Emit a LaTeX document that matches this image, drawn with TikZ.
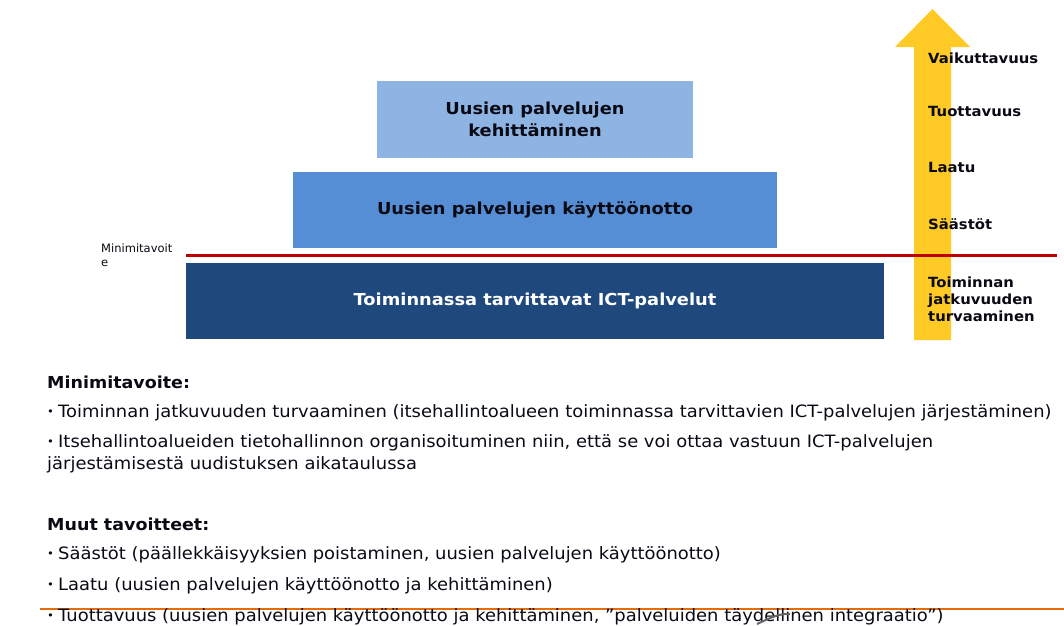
\documentclass[tikz,border=0pt]{standalone}
\usepackage{fontspec}
\setmainfont{DejaVu Sans}
\newfontfamily\tierfont[FakeStretch=1.08]{DejaVu Sans}
\newfontfamily\headfont[FakeStretch=1.06]{DejaVu Sans}
\newfontfamily\bodyfont[FakeStretch=1.055]{DejaVu Sans}
\newcommand{\smbul}{\makebox[11pt][l]{\raisebox{1.5pt}{\fontsize{11}{11}\selectfont •}}}
\definecolor{boxA}{HTML}{8EB4E3}
\definecolor{boxB}{HTML}{558ED5}
\definecolor{boxC}{HTML}{1F497D}
\definecolor{redline}{HTML}{C00000}
\definecolor{arrowyel}{HTML}{FFC926}
\definecolor{orline}{HTML}{E46C0A}
\definecolor{txt}{HTML}{0A0A14}
\tikzset{
  tier/.style={draw=none, inner sep=0pt, align=center, font=\tierfont\bfseries\fontsize{16.5}{22}\selectfont},
  lvl/.style={anchor=west, inner sep=0pt, align=left, text=txt, font=\headfont\bfseries\fontsize{14}{17}\selectfont},
  body/.style={anchor=base west, inner sep=0pt, text=txt, font=\bodyfont\fontsize{17}{20}\selectfont},
  head/.style={anchor=base west, inner sep=0pt, text=txt, font=\headfont\bfseries\fontsize{16.5}{20}\selectfont},
}
\begin{document}
\begin{tikzpicture}[x=1pt,y=-1pt]
\useasboundingbox (0,0) rectangle (1064,625);
% orange line (under the text)
\coordinate (ol1) at (40,609);
\coordinate (ol2) at (1064,609);
\draw[orline, line width=1.2pt] (ol1) -- (ol2);
% tiers
\fill[boxA] (377,81) rectangle (693,158);
\node[tier, text=txt] (t1) at (535,119.5) {Uusien palvelujen\\kehittäminen};
\fill[boxB] (293,172) rectangle (777,248);
\node[tier, text=txt] (t2) at (535,210) {Uusien palvelujen käyttöönotto};
\fill[boxC] (186,263) rectangle (884,339);
\node[tier, text=white] (t3) at (535,301) {Toiminnassa tarvittavat ICT-palvelut};
% arrow
\fill[arrowyel] (914,340) -- (914,47) -- (895,47) -- (932.5,9) -- (970,47) -- (951,47) -- (951,340) -- cycle;
% red line
\coordinate (rl1) at (186,255.5);
\coordinate (rl2) at (1057,255.5);
\draw[redline, line width=3.5pt] (rl1) -- (rl2);
\node[anchor=west, inner sep=0pt, text=txt, align=left, font=\fontsize{11.5}{14}\selectfont] (mini) at (101,255) {Minimitavoit\\e};
% levels
\node[lvl] (l1) at (928,58) {Vaikuttavuus};
\node[lvl] (l2) at (928,111) {Tuottavuus};
\node[lvl] (l3) at (928,167) {Laatu};
\node[lvl] (l4) at (928,224) {Säästöt};
\node[lvl] (l5) at (928,299) {Toiminnan\\jatkuvuuden\\turvaaminen};
% text
\node[head] (h1) at (47,388) {Minimitavoite:};
\node[body] (b1) at (47,417) {\smbul Toiminnan jatkuvuuden turvaaminen (itsehallintoalueen toiminnassa tarvittavien ICT-palvelujen järjestäminen)};
\node[body] (b2) at (47,447) {\smbul Itsehallintoalueiden tietohallinnon organisoituminen niin, että se voi ottaa vastuun ICT-palvelujen};
\node[body] (b3) at (47,469) {järjestämisestä uudistuksen aikataulussa};
\node[head] (h2) at (47,530) {Muut tavoitteet:};
\node[body] (b4) at (47,559) {\smbul Säästöt (päällekkäisyyksien poistaminen, uusien palvelujen käyttöönotto)};
\node[body] (b5) at (47,590) {\smbul Laatu (uusien palvelujen käyttöönotto ja kehittäminen)};
\node[body] (b6) at (47,621) {\smbul Tuottavuus (uusien palvelujen käyttöönotto ja kehittäminen, ”palveluiden täydellinen integraatio”)};
% squiggle
\coordinate (sq1) at (757,624);
\coordinate (sq2) at (790,614);
\draw[gray!80!black, line width=2pt] (sq1) .. controls (770,618) and (780,613) .. (sq2);
\end{tikzpicture}
\end{document}
